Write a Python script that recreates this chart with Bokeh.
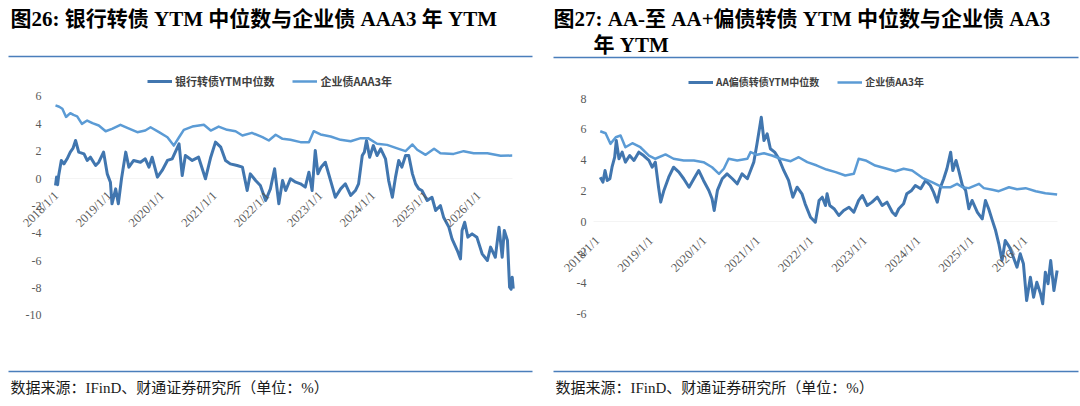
import numpy as np
from bokeh.plotting import figure
from bokeh.layouts import row
from bokeh.models import (Range1d, Label, LabelSet, BoxAnnotation,
                          Legend, LegendItem, ColumnDataSource)
from bokeh.embed import file_html
from bokeh.resources import INLINE

# ---------------- data ----------------
x_tick_pos = [2018, 2019, 2020, 2021, 2022, 2023, 2024, 2025, 2026]
x_tick_labels = ["2018/1/1", "2019/1/1", "2020/1/1", "2021/1/1", "2022/1/1",
                 "2023/1/1", "2024/1/1", "2025/1/1", "2026/1/1"]

left_title = "图26: 银行转债 YTM 中位数与企业债 AAA3 年 YTM"
left_names = ["银行转债YTM中位数", "企业债AAA3年"]
left_yticks = [-10, -8, -6, -4, -2, 0, 2, 4, 6]

left_aaa_t = [2018.00, 2018.07, 2018.13, 2018.20, 2018.28, 2018.34, 2018.41, 2018.50, 2018.60,
              2018.70, 2018.82, 2018.95, 2019.07, 2019.23, 2019.36, 2019.55, 2019.70, 2019.80,
              2019.96, 2020.12, 2020.24, 2020.34, 2020.43, 2020.59, 2020.81, 2020.94, 2021.09,
              2021.25, 2021.41, 2021.54, 2021.72, 2021.92, 2022.04, 2022.17, 2022.30, 2022.45,
              2022.64, 2022.80, 2022.89, 2023.02, 2023.21, 2023.40, 2023.59, 2023.78, 2023.92,
              2024.09, 2024.28, 2024.50, 2024.63, 2024.76, 2024.85, 2025.01, 2025.17, 2025.29,
              2025.54, 2025.73, 2025.92, 2026.18, 2026.43, 2026.65]
left_aaa_v = [5.35, 5.25, 5.10, 4.50, 4.78, 4.65, 4.55, 4.00, 4.24,
              4.05, 3.88, 3.46, 3.63, 3.93, 3.71, 3.39, 3.51, 3.75,
              3.39, 3.02, 2.41, 3.02, 3.56, 3.80, 3.93, 3.51, 3.80,
              3.56, 3.46, 3.15, 3.34, 3.02, 2.78, 3.20, 2.90, 2.83,
              2.66, 2.66, 3.46, 3.22, 3.07, 2.83, 2.73, 2.95, 2.95,
              2.54, 2.46, 2.17, 2.00, 2.49, 2.10, 1.73, 2.17, 1.85,
              1.80, 2.00, 1.85, 1.85, 1.66, 1.68]

left_cb_t = [2018.00, 2018.02, 2018.04, 2018.06, 2018.11, 2018.16, 2018.22, 2018.28, 2018.33,
             2018.38, 2018.44, 2018.54, 2018.60, 2018.66, 2018.76, 2018.82, 2018.91, 2018.98,
             2019.04, 2019.07, 2019.14, 2019.19, 2019.25, 2019.33, 2019.39, 2019.48, 2019.61,
             2019.70, 2019.77, 2019.83, 2019.93, 2020.02, 2020.12, 2020.21, 2020.34, 2020.40,
             2020.46, 2020.59, 2020.71, 2020.84, 2020.94, 2021.03, 2021.13, 2021.22, 2021.31,
             2021.44, 2021.54, 2021.63, 2021.69, 2021.79, 2021.88, 2021.98, 2022.07, 2022.15,
             2022.23, 2022.30, 2022.36, 2022.45, 2022.55, 2022.64, 2022.73, 2022.80, 2022.86,
             2022.92, 2022.97, 2023.03, 2023.11, 2023.21, 2023.30, 2023.40, 2023.49, 2023.59,
             2023.68, 2023.74, 2023.81, 2023.85, 2023.89, 2023.95, 2024.02, 2024.09, 2024.16,
             2024.25, 2024.31, 2024.38, 2024.44, 2024.50, 2024.56, 2024.63, 2024.69, 2024.76,
             2024.82, 2024.88, 2024.94, 2025.04, 2025.13, 2025.20, 2025.29, 2025.35, 2025.45,
             2025.51, 2025.61, 2025.67, 2025.70, 2025.75, 2025.81, 2025.89, 2025.98, 2026.08,
             2026.18, 2026.24, 2026.33, 2026.40, 2026.46, 2026.50, 2026.56, 2026.60, 2026.63,
             2026.65, 2026.67]
left_cb_v = [-0.51, 0.10, -0.45, 0.22, 1.32, 1.07, 1.44, 1.93, 2.20,
             2.78, 1.93, 1.80, 1.32, 1.56, 0.95, 1.19, 1.93, 0.34,
             -0.27, -1.85, -0.76, -1.85, -0.02, 1.93, 0.83, 1.32, 1.19,
             1.44, 0.83, 1.56, 0.10, 0.59, 1.32, 1.44, 2.54, 0.22,
             1.68, 1.32, 1.56, -0.02, 1.56, 2.66, 2.29, 1.32, 1.07,
             0.95, 0.83, -0.88, 0.34, -0.15, -0.51, -1.61, -0.76, 0.71,
             -1.85, -0.15, -0.88, -0.02, -0.27, -0.39, -0.63, 0.46, -0.88,
             2.05, 0.34, 0.83, 1.19, -0.15, -1.37, -0.76, -0.39, -1.24,
             -0.88, -0.39, 1.68, 1.93, 2.78, 1.56, 2.41, 1.68, 2.17,
             1.44, -0.15, -1.37, 0.10, 1.32, 0.83, 1.68, 1.68, 0.34,
             -0.39, -0.76, -0.88, -1.61, -1.37, -2.34, -1.98, -2.83, -3.56,
             -4.41, -5.27, -5.88, -3.80, -3.20, -4.29, -4.05, -4.29, -5.51,
             -6.00, -5.02, -5.76, -3.56, -5.76, -3.80, -4.54, -7.95, -8.10,
             -7.22, -8.05]

right_title_1 = "图27: AA-至 AA+偏债转债 YTM 中位数与企业债 AA3"
right_title_2 = "年 YTM"
right_names = ["AA偏债转债YTM中位数", "企业债AA3年"]
right_yticks = [-6, -4, -2, 0, 2, 4, 6, 8]

right_aa_t = [2018.07, 2018.17, 2018.26, 2018.36, 2018.45, 2018.54, 2018.67, 2018.82, 2018.98,
              2019.10, 2019.29, 2019.44, 2019.63, 2019.82, 2020.00, 2020.16, 2020.29, 2020.38,
              2020.47, 2020.63, 2020.82, 2020.88, 2021.00, 2021.13, 2021.28, 2021.44, 2021.63,
              2021.78, 2021.94, 2022.12, 2022.30, 2022.47, 2022.65, 2022.81, 2022.90, 2023.03,
              2023.21, 2023.43, 2023.59, 2023.74, 2023.90, 2024.09, 2024.27, 2024.46, 2024.62,
              2024.74, 2024.84, 2024.96, 2025.15, 2025.24, 2025.40, 2025.52, 2025.71, 2025.86,
              2026.02, 2026.21, 2026.39, 2026.61]
right_aa_v = [5.87, 5.74, 5.05, 5.48, 5.59, 4.83, 5.09, 4.83, 4.29,
              4.08, 4.36, 4.08, 3.97, 3.97, 3.86, 3.53, 3.10, 3.43,
              4.08, 3.97, 4.08, 4.51, 4.34, 4.44, 4.29, 4.08, 3.92,
              4.18, 3.86, 3.64, 3.38, 3.21, 2.99, 3.10, 4.08, 3.97,
              3.64, 3.43, 3.27, 3.43, 3.32, 2.84, 2.56, 2.23, 2.23,
              2.45, 2.23, 2.17, 2.45, 2.17, 2.06, 1.97, 2.23, 2.10,
              2.17, 1.97, 1.84, 1.76]

right_cb_t = [2018.07, 2018.12, 2018.16, 2018.20, 2018.25, 2018.29, 2018.34, 2018.37, 2018.42,
              2018.48, 2018.54, 2018.62, 2018.70, 2018.79, 2018.88, 2018.98, 2019.04, 2019.10,
              2019.16, 2019.20, 2019.26, 2019.35, 2019.44, 2019.54, 2019.63, 2019.73, 2019.82,
              2019.91, 2020.00, 2020.10, 2020.16, 2020.20, 2020.26, 2020.35, 2020.44, 2020.54,
              2020.63, 2020.72, 2020.82, 2020.88, 2020.94, 2021.00, 2021.05, 2021.08, 2021.13,
              2021.19, 2021.25, 2021.33, 2021.41, 2021.50, 2021.59, 2021.67, 2021.75, 2021.84,
              2021.90, 2022.00, 2022.09, 2022.16, 2022.22, 2022.28, 2022.31, 2022.36, 2022.44,
              2022.53, 2022.62, 2022.72, 2022.81, 2022.90, 2022.97, 2023.06, 2023.15, 2023.25,
              2023.34, 2023.43, 2023.53, 2023.59, 2023.65, 2023.74, 2023.80, 2023.89, 2023.96,
              2024.06, 2024.15, 2024.24, 2024.30, 2024.37, 2024.43, 2024.49, 2024.55, 2024.62,
              2024.66, 2024.72, 2024.77, 2024.84, 2024.90, 2024.96, 2025.02, 2025.12, 2025.21,
              2025.27, 2025.33, 2025.40, 2025.46, 2025.52, 2025.58, 2025.64, 2025.72, 2025.78,
              2025.86, 2025.92, 2025.98, 2026.04, 2026.11, 2026.17, 2026.23, 2026.30, 2026.34,
              2026.39, 2026.44, 2026.49, 2026.55, 2026.61]
right_cb_v = [2.88, 2.56, 3.32, 2.67, 2.78, 3.53, 4.18, 5.27, 4.08,
              4.51, 3.86, 4.29, 3.97, 4.51, 4.29, 3.97, 3.53, 3.86,
              2.23, 1.26, 2.02, 2.88, 3.53, 3.21, 2.78, 2.23, 2.78,
              3.32, 2.67, 2.02, 1.48, 0.72, 2.02, 2.78, 3.10, 2.78,
              2.45, 3.10, 2.78, 3.32, 3.86, 5.05, 6.13, 6.78, 5.27,
              5.70, 4.73, 4.51, 4.08, 3.32, 2.67, 1.58, 2.23, 1.80,
              1.15, 0.28, -0.05, 1.37, 1.58, 1.04, 1.80, 1.04, 0.83,
              0.39, 0.72, 0.93, 0.60, 1.37, 1.69, 1.04, 1.26, 1.58,
              1.04, 1.26, 0.60, 0.39, 0.83, 1.15, 1.80, 2.02, 2.34,
              2.13, 2.67, 2.34, 1.91, 1.26, 2.23, 2.78, 3.43, 4.51,
              3.32, 3.97, 3.32, 2.34, 2.02, 0.83, 1.37, 0.60, 0.17,
              1.37, 0.83, 0.06, -0.59, -1.45, -2.54, -1.24, -1.67, -2.21,
              -2.97, -2.10, -2.75, -5.14, -3.62, -4.92, -3.95, -4.70, -5.35,
              -3.30, -4.05, -2.54, -4.49, -3.19]

source_text = "数据来源：IFinD、财通证券研究所（单位：%）"

# ---------------- styles ----------------
FONT_TITLE = "'Liberation Serif', 'Noto Sans CJK SC'"
FONT_CJK = "'Noto Sans CJK SC'"
FONT_TICK = "'Liberation Sans'"
DARK = "#4176af"
LIGHT = "#5b9bd5"
RULE = "#4a7ebb"
TICK_COLOR = "#595959"

FIG_W, FIG_H = 540, 406


def panel(fig_left, px_year0, px_per_year, py_zero, px_per_unit,
          cb_t, cb_v, aa_t, aa_v, names, yticks, ylab_right, zero_l, zero_r,
          xlab_drop, legend_x, legend_font, titles, rule_left, rule_right, rule_top_y):
    # the frame fills the whole figure; page pixel -> data through the ranges
    x0 = 2018 - (px_year0 - fig_left) / px_per_year
    x1 = x0 + FIG_W / px_per_year
    y1 = py_zero / px_per_unit
    y0 = y1 - FIG_H / px_per_unit

    p = figure(width=FIG_W, height=FIG_H, output_backend="svg", toolbar_location=None,
               tools="", x_range=Range1d(x0, x1), y_range=Range1d(y0, y1),
               x_axis_location=None, y_axis_location=None,
               min_border_left=0, min_border_right=0, min_border_top=0, min_border_bottom=0)
    p.outline_line_color = None
    p.xgrid.visible = False
    p.ygrid.visible = False
    p.background_fill_color = "white"
    p.border_fill_color = "white"

    def fx(px):
        return px - fig_left

    def fy(py):
        return FIG_H - py

    # zero line
    p.add_layout(BoxAnnotation(left=fx(zero_l), right=fx(zero_r), left_units="screen",
                               right_units="screen", top=0, bottom=0,
                               fill_alpha=0, line_color="#d9d9d9", line_width=1.2,
                               level="underlay"))

    r_dark = p.line(cb_t, cb_v, line_color=DARK, line_width=3.0, line_join="round")
    r_light = p.line(aa_t, aa_v, line_color=LIGHT, line_width=2.5, line_join="round")

    # y tick labels
    ysrc = ColumnDataSource(dict(y=yticks, text=[str(t) for t in yticks]))
    p.add_layout(LabelSet(x=fx(ylab_right), x_units="screen", y="y", text="text",
                          source=ysrc, text_align="right", text_baseline="middle",
                          text_font=FONT_TICK, text_font_size="12px",
                          text_color=TICK_COLOR))

    # x tick labels sitting under the zero line
    xsrc = ColumnDataSource(dict(x=x_tick_pos, y=[0] * len(x_tick_pos), text=x_tick_labels))
    p.add_layout(LabelSet(x="x", y="y", text="text", source=xsrc, angle=np.pi / 4,
                          text_align="right", text_baseline="middle",
                          text_font=FONT_TICK, text_font_size="12.5px",
                          text_color=TICK_COLOR, x_offset=1, y_offset=-xlab_drop))

    # legend
    legend = Legend(items=[LegendItem(label=names[0], renderers=[r_dark]),
                           LegendItem(label=names[1], renderers=[r_light])],
                    location=(fx(legend_x), fy(89)),
                    orientation="horizontal", border_line_color=None,
                    background_fill_alpha=0, padding=0, margin=0, spacing=18,
                    glyph_width=25, glyph_height=12, label_height=12, label_standoff=3,
                    label_text_font=FONT_CJK, label_text_font_size=legend_font,
                    label_text_font_style="bold", label_text_color="#404040")
    p.add_layout(legend)

    for (tx, ty, txt) in titles:
        p.add_layout(Label(x=fx(tx), y=fy(ty), x_units="screen", y_units="screen",
                           text=txt, text_font=FONT_TITLE, text_font_size="21px",
                           text_font_style="bold", text_color="#000000",
                           text_baseline="middle", text_align="left"))

    p.add_layout(Label(x=fx(rule_left + 2), y=fy(387), x_units="screen", y_units="screen",
                       text=source_text, text_font=FONT_TITLE, text_font_size="15px",
                       text_color="#1a1a1a", text_baseline="middle", text_align="left"))

    for ry in (rule_top_y, 371):
        p.add_layout(BoxAnnotation(left=fx(rule_left), right=fx(rule_right),
                                   top=fy(ry - 0.8), bottom=fy(ry + 0.8),
                                   left_units="screen", right_units="screen",
                                   top_units="screen", bottom_units="screen",
                                   fill_color=RULE, fill_alpha=1.0, line_color=None,
                                   level="overlay"))
    return p


p1 = panel(fig_left=0, px_year0=55, px_per_year=52.8, py_zero=178, px_per_unit=13.67,
           cb_t=left_cb_t, cb_v=left_cb_v, aa_t=left_aaa_t, aa_v=left_aaa_v,
           names=left_names, yticks=left_yticks, ylab_right=41, zero_l=50, zero_r=512,
           xlab_drop=15, legend_x=147, legend_font="11px",
           titles=[(10, 18.5, left_title)], rule_left=8, rule_right=532, rule_top_y=56)

p2 = panel(fig_left=540, px_year0=596, px_per_year=53.5, py_zero=221, px_per_unit=15.375,
           cb_t=right_cb_t, cb_v=right_cb_v, aa_t=right_aa_t, aa_v=right_aa_v,
           names=right_names, yticks=right_yticks, ylab_right=586, zero_l=593, zero_r=1057,
           xlab_drop=17, legend_x=688, legend_font="10px",
           titles=[(553, 18.5, right_title_1), (593, 44, right_title_2)],
           rule_left=553, rule_right=1078, rule_top_y=57)

layout = row(p1, p2, spacing=0)
open("out.html", "w").write(file_html(layout, INLINE))
